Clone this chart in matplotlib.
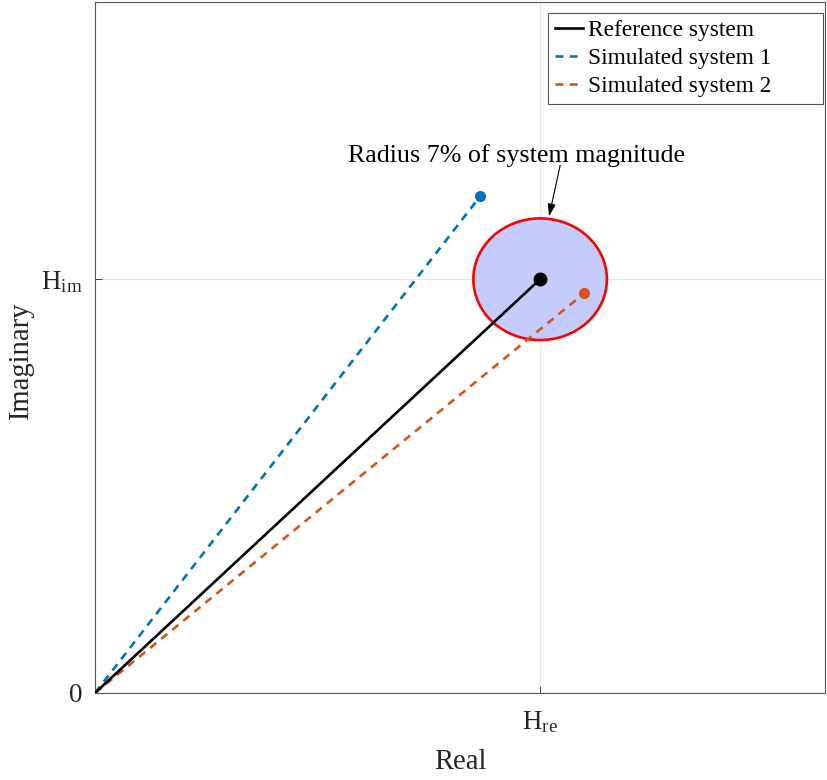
import matplotlib
matplotlib.use("Agg")
import matplotlib.pyplot as plt
from matplotlib.patches import Ellipse

plt.rcParams['font.family'] = ['Liberation Serif', 'DejaVu Serif']
plt.rcParams['mathtext.fontset'] = 'custom'
plt.rcParams['mathtext.rm'] = 'Liberation Serif'
plt.rcParams['mathtext.it'] = 'Liberation Serif'

# Data (normalised so reference = (1, 1))
series_names = ["Reference system", "Simulated system 1", "Simulated system 2"]
series_re = [1.0, 0.865, 1.099]
series_im = [1.0, 1.200, 0.966]
series_colors = ["black", "#0072BD", "#D95319"]
circle_radius = 0.15
xtick_vals = [1.0]
xtick_labels = [r"H$_{\mathrm{re}}$"]
ytick_vals = [0.0, 1.0]
ytick_labels = ["0", r"H$_{\mathrm{im}}$"]
xlim = (0, 1.64)
ylim = (0, 1.67)
annot_text = "Radius 7% of system magnitude"

fig = plt.figure(figsize=(8.27, 7.8), dpi=100)
ax = fig.add_axes([95/827, 87/780, 730/827, 691/780])

# circle
circ = Ellipse((series_re[0], series_im[0]), 2*circle_radius, 2*circle_radius*0.98,
               facecolor="#C4CCFB", edgecolor="#FF0000", linewidth=1.9, zorder=2)
ax.add_patch(circ)

# lines
for i, (name, xr, yi, c) in enumerate(zip(series_names, series_re, series_im, series_colors)):
    if i == 0:
        ax.plot([0, xr], [0, yi], color=c, lw=1.9, ls='-', label=name, zorder=4)
        ax.plot([xr], [yi], 'o', color=c, ms=9, zorder=5)
    else:
        ax.plot([0, xr], [0, yi], color=c, lw=1.9, ls=(0, (3, 2.4)), label=name, zorder=3)
        ax.plot([xr], [yi], 'o', color=c, ms=7, zorder=5)

ax.text(0.946, 1.30, annot_text, ha='center', va='center', fontsize=18.7)
ax.annotate("", xy=(1.020, 1.152), xytext=(1.045, 1.275),
            arrowprops=dict(arrowstyle='-|>,head_length=0.75,head_width=0.24', color='black',
                            lw=0.8, shrinkA=0, shrinkB=0))

ax.set_xlim(*xlim)
ax.set_ylim(*ylim)
ax.set_xticks(xtick_vals)
ax.set_xticklabels(xtick_labels)
ax.set_yticks(ytick_vals)
ax.set_yticklabels(ytick_labels)
ax.grid(True, color='#E6E6E6', lw=0.8, zorder=0)
ax.set_axisbelow(True)
ax.tick_params(direction='in', length=5, width=0.6, colors='#262626', labelsize=19.5)
ax.tick_params(axis='x', pad=12)
ax.tick_params(axis='y', pad=9)
for s in ax.spines.values():
    s.set_color('#555555')
    s.set_linewidth(0.8)
ax.set_xlabel("Real", fontsize=20.6, color='#262626', labelpad=10)
ax.set_ylabel("Imaginary", fontsize=20.6, color='#262626')
ax.yaxis.set_label_coords(-0.0836, 0.480)

x0 = (548 - 95) / 730
x1 = (823 - 95) / 730
ytop = (693 - 13) / 691
leg = ax.legend(loc='upper left', bbox_to_anchor=(x0, ytop, x1 - x0, 0.0), mode='expand',
                fontsize=16.8, frameon=True, fancybox=False,
                edgecolor='#262626', handlelength=1.2, handletextpad=0.2,
                borderpad=0.3, labelspacing=0.28, borderaxespad=0.0)
leg.get_frame().set_linewidth(0.8)

fig.savefig("out.png", dpi=100)
